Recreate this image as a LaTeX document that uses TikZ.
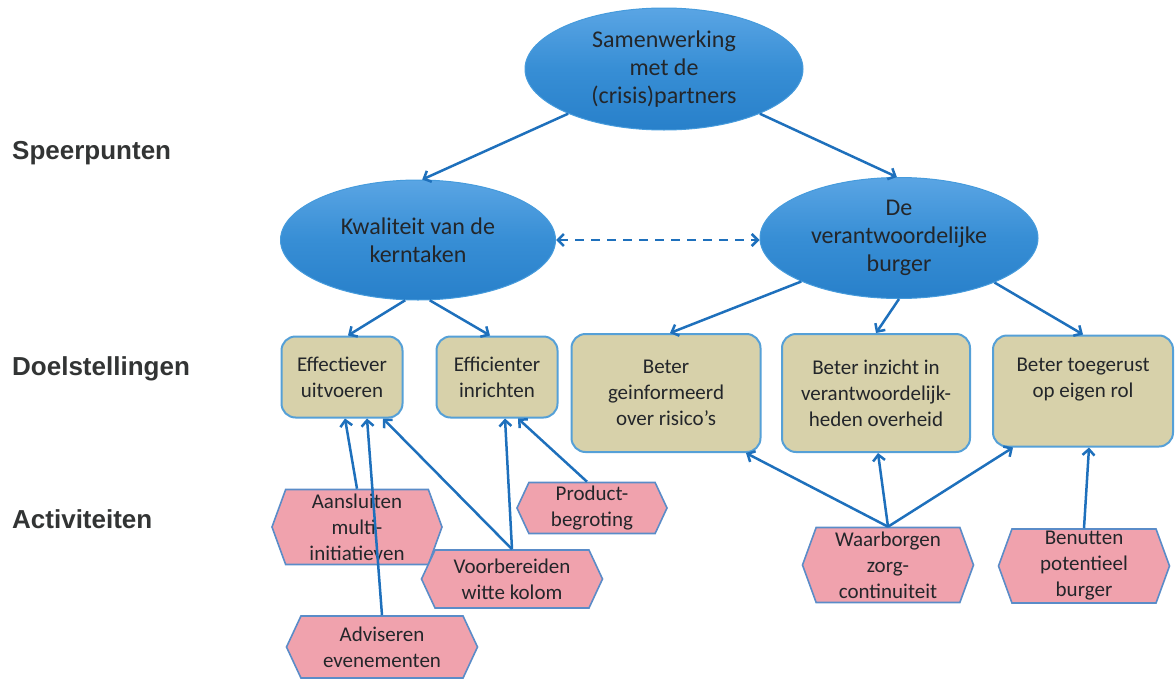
\documentclass[tikz,border=0pt]{standalone}
\usepackage{fontspec}
\setmainfont{Carlito}
\newfontfamily\labelfont{Liberation Sans}
\usetikzlibrary{shapes.geometric,shapes.symbols,arrows.meta}
\definecolor{ovalborder}{RGB}{70,155,220}
\definecolor{ovaltop}{RGB}{90,165,228}
\definecolor{ovalmid}{RGB}{55,142,213}
\definecolor{ovalbot}{RGB}{40,128,202}
\definecolor{boxfill}{RGB}{215,209,170}
\definecolor{boxborder}{RGB}{85,160,215}
\definecolor{hexfill}{RGB}{240,162,173}
\definecolor{hexborder}{RGB}{90,140,200}
\definecolor{arrowblue}{RGB}{30,112,188}
\definecolor{txt}{RGB}{35,38,42}
\definecolor{lbl}{RGB}{50,52,52}
\tikzset{
  oval/.style={ellipse, draw=ovalborder, line width=1pt, top color=ovaltop, bottom color=ovalbot, middle color=ovalmid,
    minimum width=276pt, minimum height=121pt, inner sep=0pt, align=center, text=txt,
    font=\fontsize{24}{28}\selectfont},
  goal/.style={rectangle, rounded corners=14pt, draw=boxborder, line width=2pt, fill=boxfill,
    inner sep=0pt, align=center, text=txt, font=\fontsize{21}{26}\selectfont},
  act/.style={signal, signal to=west and east, signal pointer angle=130, draw=hexborder, line width=1.6pt, fill=hexfill,
    inner sep=0pt, align=center, text=txt, font=\fontsize{21}{26}\selectfont},
  rowlabel/.style={anchor=base west, inner sep=0pt, text=lbl, font=\labelfont\bfseries\fontsize{26}{30}\selectfont},
  link/.style={draw=arrowblue, line width=2.5pt, -{Straight Barb[length=6pt,width=12pt]}},
  duallink/.style={draw=arrowblue, line width=2.5pt, dash pattern=on 9pt off 7pt, {Straight Barb[length=6pt,width=12pt]}-{Straight Barb[length=6pt,width=12pt]}}
}
\begin{document}
\begin{tikzpicture}[x=1pt,y=-1pt]
\useasboundingbox (0,0) rectangle (1175,680);
% row labels
\node[rowlabel] (l1) at (12,159) {Speerpunten};
\node[rowlabel] (l2) at (12,375) {Doelstellingen};
\node[rowlabel] (l3) at (12,528) {Activiteiten};
% ovals
\node[oval, minimum width=278pt, minimum height=122pt] (top) at (664,69) {Samenwerking\\met de\\(crisis)partners};
\node[oval, minimum width=275pt, minimum height=120pt] (lft) at (418,240) {Kwaliteit van de\\kerntaken};
\node[oval, minimum width=278pt, minimum height=121pt] (rgt) at (899,238) {De\\verantwoordelijke\\burger};
% goals
\node[goal, minimum width=121pt, minimum height=81pt] (eff) at (342,377) {Effectiever\\uitvoeren};
\node[goal, minimum width=121pt, minimum height=81pt] (effc) at (497,377) {Efficienter\\inrichten};
\node[goal, minimum width=189pt, minimum height=118pt] (inf) at (666,393) {Beter\\geinformeerd\\over risico’s};
\node[goal, minimum width=188pt, minimum height=118pt] (inz) at (876,393) {Beter inzicht in\\verantwoordelijk-\\heden overheid};
\node[goal, minimum width=180pt, minimum height=111pt] (toe) at (1083,391) {Beter toegerust\\op eigen rol\\\mbox{}};
% activities
\node[act, minimum width=170pt, minimum height=75pt, signal pointer angle=140] (aan) at (357,527) {Aansluiten\\multi-\\initiatieven};
\node[act, minimum width=150pt, minimum height=51pt] (pro) at (592,508) {Product-\\begroting};
\node[act, minimum width=181pt, minimum height=58pt] (voo) at (512,579) {Voorbereiden\\witte kolom};
\node[act, minimum width=191pt, minimum height=62pt] (adv) at (382,647) {Adviseren\\evenementen};
\node[act, minimum width=171pt, minimum height=75pt, signal pointer angle=140] (waa) at (888,565) {Waarborgen\\zorg-\\continuiteit};
\node[act, minimum width=171pt, minimum height=74pt, signal pointer angle=140] (ben) at (1084,566) {Benutten\\potentieel\\burger};
% connectors
\draw[link] (top.205) -- (lft.86);
\draw[link] (top.335) -- (rgt.92);
\draw[duallink] (lft.east) -- (lft.east -| rgt.west);
\draw[link] (lft.258) -- ([xshift=6pt]eff.north);
\draw[link] (lft.281) -- ([xshift=-7pt]effc.north);
\draw[link] (rgt.204) -- ([xshift=4pt]inf.north);
\draw[link] (rgt.south) -- (inz.north);
\draw[link] (rgt.335) -- (toe.north);
\draw[link] (aan.north) -- ([xshift=3pt]eff.south);
\draw[link] (adv.north) -- ([xshift=25pt]eff.south);
\draw[link] (voo.north) -- ([xshift=41pt]eff.south);
\draw[link] (voo.north) -- ([xshift=8pt]effc.south);
\draw[link] ([xshift=-5pt]pro.north) -- ([xshift=21pt]effc.south);
\draw[link] (waa.north) -- ([xshift=80pt]inf.south);
\draw[link] (waa.north) -- ([xshift=2pt]inz.south);
\draw[link] (waa.north) -- ([xshift=-70pt]toe.south);
\draw[link] (ben.north) -- ([xshift=6pt]toe.south);
\end{tikzpicture}
\end{document}
